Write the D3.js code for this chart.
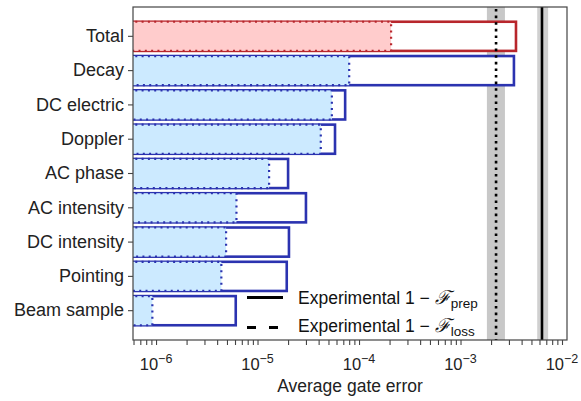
<!DOCTYPE html>
<html>
<head>
<meta charset="utf-8">
<script src="https://cdn.jsdelivr.net/npm/d3@7"></script>
<style>
  html, body { margin: 0; padding: 0; background: #fff; }
  svg { display: block; font-family: "Liberation Sans", Arial, sans-serif; }
</style>
</head>
<body>
<svg id="chart" width="581" height="401"></svg>
<script>
// Error budget per source: dotted value (shaded) and full value (outlined box)
const categories = ["Total", "Decay", "DC electric", "Doppler", "AC phase",
                    "AC intensity", "DC intensity", "Pointing", "Beam sample"];
const innerValues = [2.07e-4, 8.0e-5, 5.4e-5, 4.2e-5, 1.3e-5, 6.2e-6, 4.9e-6, 4.4e-6, 9.2e-7];
const outerValues = [3.52e-3, 3.36e-3, 7.3e-5, 5.8e-5, 2.0e-5, 3.0e-5, 2.04e-5, 1.94e-5, 6.1e-6];

// Experimental reference values with uncertainty bands
const prepValue = 6.35e-3, prepBand = [5.7e-3, 7.3e-3];
const lossValue = 2.24e-3, lossBand = [1.82e-3, 2.74e-3];

const tickExponents = [-6, -5, -4, -3, -2];

const svg = d3.select("#chart");
const plotL = 133, plotR = 567, plotT = 7, plotB = 340;

const x = d3.scaleLog().domain([5.93e-7, 1.12e-2]).range([plotL, plotR]);
const y = d3.scaleBand().domain(categories).range([plotT, plotB])
  .paddingInner(0.15).paddingOuter(0.43);

svg.append("clipPath").attr("id", "plotclip")
  .append("rect").attr("x", plotL).attr("y", plotT)
  .attr("width", plotR - plotL).attr("height", plotB - plotT);

const plot = svg.append("g").attr("clip-path", "url(#plotclip)");

// uncertainty bands
plot.append("rect")
  .attr("x", x(lossBand[0])).attr("y", plotT)
  .attr("width", x(lossBand[1]) - x(lossBand[0])).attr("height", plotB - plotT)
  .attr("fill", "#c8c8c8");
plot.append("rect")
  .attr("x", x(prepBand[0])).attr("y", plotT)
  .attr("width", x(prepBand[1]) - x(prepBand[0])).attr("height", plotB - plotT)
  .attr("fill", "#d0d0d0");

const colorFor = i => i === 0
  ? { stroke: "#b8262c", fill: "#ffcccc" }
  : { stroke: "#2b33b0", fill: "#cceaff" };

categories.forEach((c, i) => {
  const col = colorFor(i);
  const y0 = y(c), h = y.bandwidth();
  const x0 = plotL - 4;
  // outlined full-value box
  plot.append("rect")
    .attr("x", x0).attr("y", y0)
    .attr("width", x(outerValues[i]) - x0).attr("height", h)
    .attr("fill", "#fff").attr("stroke", col.stroke).attr("stroke-width", 2.6);
  // shaded inner value
  plot.append("rect")
    .attr("x", x0).attr("y", y0)
    .attr("width", x(innerValues[i]) - x0).attr("height", h)
    .attr("fill", col.fill);
  // dotted outline of the inner value
  const xi = x(innerValues[i]);
  plot.append("path")
    .attr("d", `M${x0},${y0}H${xi}V${y0 + h}H${x0}`)
    .attr("fill", "none").attr("stroke", col.stroke)
    .attr("stroke-width", 2.2).attr("stroke-dasharray", "2 4.3");
});

// reference lines
plot.append("line")
  .attr("x1", x(prepValue)).attr("x2", x(prepValue))
  .attr("y1", plotT).attr("y2", plotB)
  .attr("stroke", "#000").attr("stroke-width", 2.6);
plot.append("line")
  .attr("x1", x(lossValue)).attr("x2", x(lossValue))
  .attr("y1", plotT + 2).attr("y2", plotB)
  .attr("stroke", "#000").attr("stroke-width", 2.6)
  .attr("stroke-dasharray", "2.6 4");

// frame
svg.append("rect")
  .attr("x", plotL).attr("y", plotT)
  .attr("width", plotR - plotL).attr("height", plotB - plotT)
  .attr("fill", "none").attr("stroke", "#444").attr("stroke-width", 1.2);

// x axis with minor ticks
const tickVals = [];
for (let e = -7; e <= -2; e++) {
  for (let m = 1; m <= 9; m++) {
    const v = m * Math.pow(10, e);
    if (v >= x.domain()[0] && v <= x.domain()[1]) tickVals.push(v);
  }
}
const xAxis = svg.append("g")
  .attr("transform", `translate(0,${plotB})`)
  .call(d3.axisBottom(x).tickValues(tickVals).tickSize(5).tickFormat(""));
xAxis.select(".domain").remove();
xAxis.selectAll(".tick line").attr("stroke", "#444").attr("stroke-width", 1.1);

tickExponents.forEach(e => {
  const t = svg.append("text")
    .attr("x", x(Math.pow(10, e))).attr("y", 370)
    .attr("text-anchor", "middle").attr("font-size", 16.5).attr("fill", "#222");
  t.append("tspan").text("10");
  t.append("tspan").attr("dy", -7).attr("font-size", 12.5).text("\u2212" + Math.abs(e));
});

svg.append("text")
  .attr("x", 350).attr("y", 392)
  .attr("text-anchor", "middle").attr("font-size", 17.5).attr("fill", "#222")
  .text("Average gate error");

// y axis
const yAxis = svg.append("g")
  .attr("transform", `translate(${plotL},0)`)
  .call(d3.axisLeft(y).tickSize(5).tickPadding(4));
yAxis.select(".domain").remove();
yAxis.selectAll(".tick line").attr("stroke", "#444").attr("stroke-width", 1.1);
yAxis.selectAll(".tick text")
  .attr("font-size", 18).attr("fill", "#222")
  .attr("font-family", "Liberation Sans, Arial, sans-serif");

// legend
const legend = [
  { label: "prep", dash: null, yy: 297.5, ty: 304 },
  { label: "loss", dash: "9 13", yy: 327.5, ty: 332 }
];
legend.forEach(d => {
  svg.append("line")
    .attr("x1", 247).attr("x2", 283).attr("y1", d.yy).attr("y2", d.yy)
    .attr("stroke", "#000").attr("stroke-width", 2.8)
    .attr("stroke-dasharray", d.dash);
  const t = svg.append("text")
    .attr("x", 298).attr("y", d.ty)
    .attr("font-size", 17.5).attr("fill", "#111");
  t.append("tspan").text("Experimental 1 \u2212 ");
  t.append("tspan").attr("font-style", "italic").attr("font-size", 19)
    .attr("font-family", "DejaVu Serif, serif").text("\u2131");
  t.append("tspan").attr("dy", 4).attr("font-size", 13.5).text(d.label);
});
</script>
</body>
</html>
